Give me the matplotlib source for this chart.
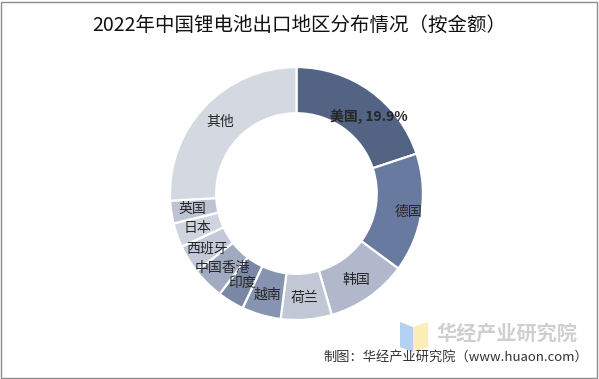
import matplotlib.pyplot as plt
import numpy as np
from matplotlib.patches import Rectangle, Polygon

plt.rcParams['font.family'] = ['Noto Sans CJK SC', 'DejaVu Sans']

# 数据（按金额占比，%）
regions = ['美国', '德国', '韩国', '荷兰', '越南', '印度', '中国香港', '西班牙', '日本', '英国', '其他']
shares = [19.9, 15.2, 10.4, 6.5, 5.0, 3.4, 4.1, 3.6, 3.1, 2.9, 25.9]
colors = ['#536383', '#687a9f', '#b1b8cb', '#c1c7d5', '#8794b1', '#7a88a6',
          '#a0aac0', '#c3c9d7', '#cfd4de', '#bcc3d2', '#d3d8e1']

fig = plt.figure(figsize=(5.99, 3.79), dpi=100)
fig.patch.set_facecolor('white')

# 外边框
fig.add_artist(Rectangle((0.002, 0.003), 0.995, 0.993, transform=fig.transFigure,
                         fill=False, edgecolor='#8c8c8c', linewidth=1))

fig.text(0.5, 0.933, '2022年中国锂电池出口地区分布情况（按金额）', ha='center', va='center',
         fontsize=14, fontweight='medium', color='#111111')

ax = fig.add_axes([0.2796, 0.149, 0.4307, 0.6807])
wedges, _ = ax.pie(shares, colors=colors, startangle=90, counterclock=False,
                   radius=1, wedgeprops=dict(width=0.365, edgecolor='white', linewidth=1.6))
ax.set_xlim(-1.02, 1.02)
ax.set_ylim(-1.02, 1.02)
ax.set_aspect('equal')
ax.axis('off')

# 标签放在环中间（少数微调）
label_r = {'德国': 0.9}
angle_nudge = {'美国': -8}
for w, name, v in zip(wedges, regions, shares):
    mid = (w.theta1 + w.theta2) / 2 + angle_nudge.get(name, 0)
    r = label_r.get(name, 0.83)
    x = r * np.cos(np.deg2rad(mid))
    y = r * np.sin(np.deg2rad(mid))
    if name == '美国':
        ax.text(x, y, f'{name}, {v}%', ha='center', va='center', fontsize=10,
                fontweight='bold', color='#262626')
    else:
        ax.text(x, y, name, ha='center', va='center', fontsize=10, color='#262626')

# 水印 logo
fig.add_artist(Polygon([[400 / 599, 1 - 322 / 379], [413 / 599, 1 - 327 / 379],
                        [413 / 599, 1 - 352 / 379], [400 / 599, 1 - 347 / 379]],
                       closed=True, transform=fig.transFigure, facecolor='#b4d0f3', edgecolor='none'))
fig.add_artist(Polygon([[413 / 599, 1 - 327 / 379], [428 / 599, 1 - 322 / 379],
                        [428 / 599, 1 - 347 / 379], [413 / 599, 1 - 352 / 379]],
                       closed=True, transform=fig.transFigure, facecolor='#fbefb6', edgecolor='none'))
fig.text(0.846, 1 - 333 / 379, '华经产业研究院', ha='center', va='center', fontsize=14.5,
         fontweight='bold', color='#cfcfcf')

fig.text(0.982, 1 - 357 / 379, '制图：华经产业研究院（www.huaon.com）', ha='right', va='center',
         fontsize=9.5, color='#333333')

plt.savefig('out.png', dpi=100)
